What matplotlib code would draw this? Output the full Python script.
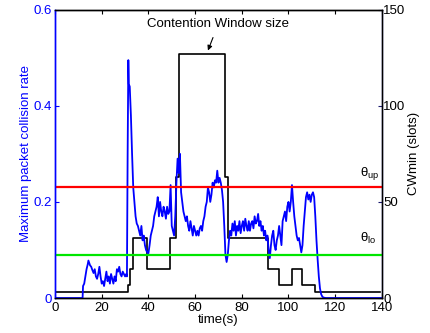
import numpy as np
import matplotlib
matplotlib.use("Agg")
import matplotlib.pyplot as plt

plt.rcParams['font.family'] = ['Liberation Sans', 'DejaVu Sans']

# collision rate (left axis)
t_rate = [0, 11.8, 12, 12.5, 13, 13.5, 14, 14.3, 15, 15.5, 16, 16.5, 17, 17.5, 18, 18.5, 19, 19.5,
          20, 20.5, 21, 21.5, 22, 22.5, 23, 23.5, 24, 24.5, 25, 25.5, 26, 26.5, 27, 27.5, 28, 28.5,
          29, 29.5, 30, 30.5, 30.8, 31.1, 31.4, 31.6, 32, 32.5, 33, 33.5, 34, 34.5, 35, 35.5,
          36, 36.5, 37, 37.5, 38, 38.5, 39, 39.5, 40, 40.5, 41, 41.5, 42, 42.5, 43, 43.5, 44, 44.5,
          45, 45.5, 46, 46.5, 47, 47.5, 48, 48.5, 49, 49.5, 50, 50.5, 51, 51.5, 52, 52.5, 53, 53.5,
          54, 54.5, 55, 55.5, 56, 56.5, 57, 57.5, 58, 58.5, 59, 59.5, 60, 60.5, 61, 61.5, 62, 62.5,
          63, 63.5, 64, 64.5, 65, 65.5, 66, 66.5, 67, 67.5, 68, 68.5, 69, 69.5, 70, 70.5, 71, 71.5,
          72, 72.5, 73, 73.5, 74, 74.5, 75, 75.5, 76, 76.5, 77, 77.5, 78, 78.5, 79, 79.5, 80, 80.5,
          81, 81.5, 82, 82.5, 83, 83.5, 84, 84.5, 85, 85.5, 86, 86.5, 87, 87.5, 88, 88.5, 89, 89.5,
          90, 90.5, 91, 91.5, 92, 92.5, 93, 93.5, 94, 94.5, 95, 95.5, 96, 96.5, 97, 97.5, 98, 98.5,
          99, 99.5, 100, 100.5, 101, 101.5, 102, 102.5, 103, 103.5, 104, 104.5, 105, 105.5, 106,
          106.5, 107, 107.5, 108, 108.5, 109, 109.5, 110, 110.5, 111, 111.5, 112, 112.5, 113, 113.5,
          114, 114.5, 115, 116, 118, 140]
rate = [0, 0, 0.025, 0.03, 0.045, 0.06, 0.07, 0.078, 0.068, 0.065, 0.058, 0.052, 0.06, 0.045, 0.04,
        0.05, 0.065, 0.045, 0.03, 0.035, 0.025, 0.04, 0.055, 0.035, 0.045, 0.03, 0.05, 0.04, 0.03,
        0.045, 0.035, 0.06, 0.055, 0.065, 0.05, 0.045, 0.055, 0.05, 0.045, 0.05, 0.045, 0.3, 0.495,
        0.445, 0.44, 0.38, 0.3, 0.23, 0.2, 0.17, 0.155, 0.15, 0.14, 0.13, 0.15, 0.12, 0.13, 0.11,
        0.1, 0.095, 0.093, 0.11, 0.13, 0.14, 0.15, 0.17, 0.18, 0.19, 0.21, 0.17, 0.2, 0.18, 0.17,
        0.19, 0.18, 0.165, 0.19, 0.175, 0.18, 0.235, 0.15, 0.14, 0.13, 0.17, 0.24, 0.29, 0.26, 0.3,
        0.22, 0.2, 0.18, 0.17, 0.16, 0.17, 0.15, 0.14, 0.16, 0.145, 0.13, 0.15, 0.14, 0.13, 0.14,
        0.13, 0.145, 0.15, 0.14, 0.16, 0.17, 0.19, 0.2, 0.23, 0.22, 0.2, 0.215, 0.24, 0.23, 0.245,
        0.24, 0.265, 0.24, 0.25, 0.24, 0.225, 0.2, 0.15, 0.09, 0.075, 0.09, 0.12, 0.14, 0.13, 0.155,
        0.14, 0.16, 0.13, 0.15, 0.14, 0.16, 0.135, 0.15, 0.16, 0.14, 0.165, 0.15, 0.14, 0.16, 0.14,
        0.155, 0.16, 0.145, 0.17, 0.155, 0.16, 0.175, 0.15, 0.16, 0.14, 0.15, 0.13, 0.14, 0.12,
        0.13, 0.1, 0.083, 0.11, 0.13, 0.14, 0.11, 0.1, 0.12, 0.13, 0.15, 0.13, 0.11, 0.16, 0.17,
        0.18, 0.16, 0.19, 0.2, 0.18, 0.2, 0.235, 0.2, 0.17, 0.15, 0.13, 0.12, 0.125, 0.11, 0.095,
        0.11, 0.15, 0.18, 0.21, 0.22, 0.205, 0.215, 0.2, 0.215, 0.22, 0.21, 0.17, 0.12, 0.08, 0.045,
        0.02, 0.008, 0.003, 0.001, 0, 0, 0]

# contention window (right axis), step changes
t_cw = [0, 31.1, 32.2, 33.3, 39.6, 49.3, 51.9, 52.9, 72.9, 74.0, 91.4, 96.1, 101.7, 106.0, 111.4, 139]
cw = [3, 7, 15, 31, 15, 31, 63, 127, 63, 31, 15, 7, 15, 7, 3, 3]

theta_up = 0.23
theta_lo = 0.09

fig = plt.figure(figsize=(4.3, 3.33), dpi=100)
ax1 = fig.add_axes([0.128, 0.105, 0.760, 0.866])
ax2 = ax1.twinx()

ax1.plot(t_rate, rate, color='blue', linewidth=1.3)
ax1.axhline(theta_up, color='red', linewidth=1.6)
ax1.axhline(theta_lo, color='#00e600', linewidth=1.6)
ax2.step(t_cw, cw, where='post', color='black', linewidth=1.2)
ax1.set_zorder(ax2.get_zorder() + 1)
ax1.patch.set_visible(False)

ax1.set_xlim(0, 140)
ax1.set_ylim(0, 0.6)
ax2.set_ylim(0, 150)
ax1.set_xticks(np.arange(0, 141, 20))
ax1.set_yticks([0, 0.2, 0.4, 0.6])
ax1.set_yticklabels(['0', '0.2', '0.4', '0.6'])
ax2.set_yticks([0, 50, 100, 150])

fs = 9.5
ax1.tick_params(axis='x', direction='in', top=True, labelsize=fs, length=3, pad=3)
ax1.tick_params(axis='y', direction='in', colors='blue', labelsize=fs, length=3, pad=2)
ax2.tick_params(axis='y', direction='in', colors='#1a1a6e', labelcolor='black', labelsize=fs,
                length=3, pad=1)
ax1.spines['left'].set_color('blue')
ax2.spines['left'].set_color('blue')
ax2.spines['right'].set_color('#1a1a6e')
for ax in (ax1, ax2):
    for s in ax.spines.values():
        s.set_linewidth(1.0)

ax1.set_xlabel('time(s)', fontsize=fs, labelpad=0)
ax1.set_ylabel('Maximum packet collision rate', color='blue', fontsize=fs, labelpad=1)
ax2.set_ylabel('CWmin (slots)', fontsize=fs, labelpad=2)

ax1.text(130.5, 0.255, r'$\mathregular{\theta_{up}}$', fontsize=fs)
ax1.text(130.5, 0.116, r'$\mathregular{\theta_{lo}}$', fontsize=fs)
ax1.annotate('Contention Window size', xy=(65.5, 0.515), xytext=(70, 0.571),
             ha='center', va='center', fontsize=fs,
             arrowprops=dict(arrowstyle='-|>', color='black', lw=0.8,
                             mutation_scale=7, shrinkA=4, shrinkB=0))

plt.savefig('out.png', dpi=100)
